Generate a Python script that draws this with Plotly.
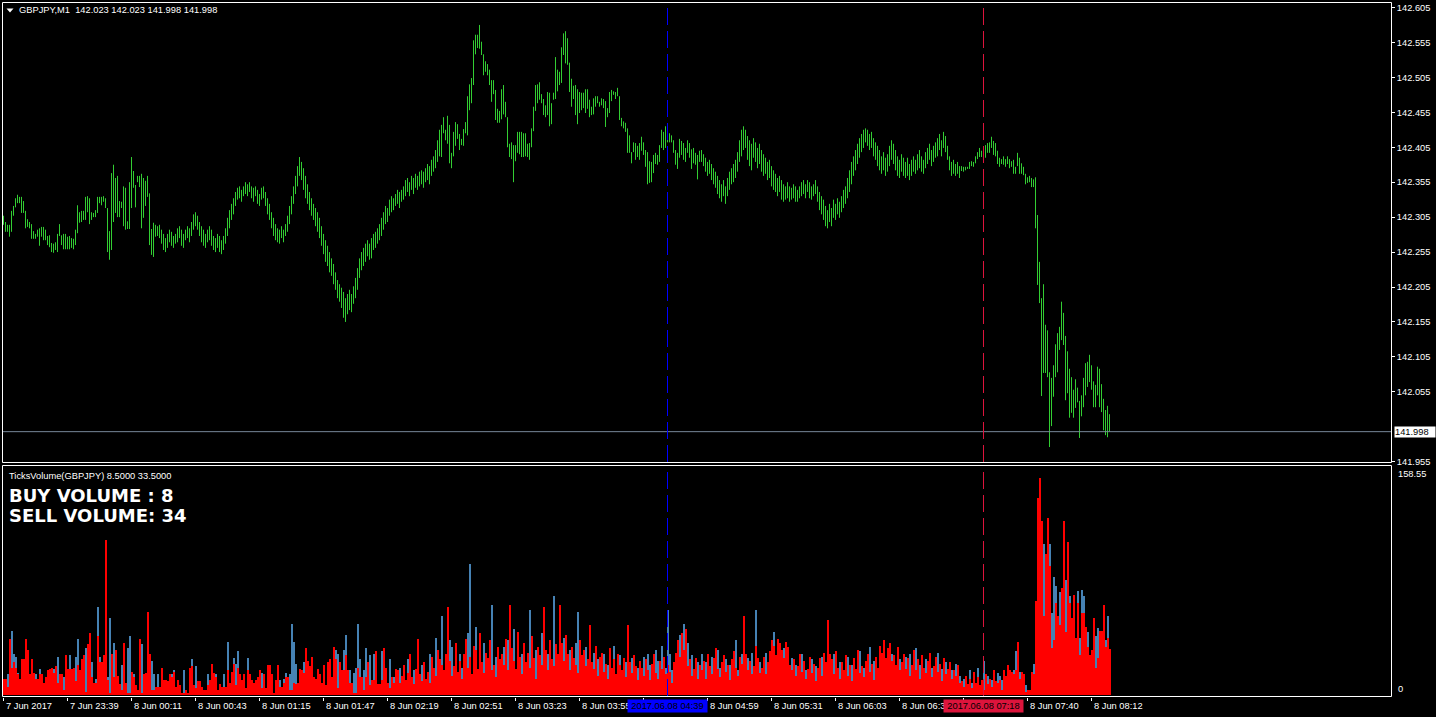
import plotly.graph_objects as go

W, H = 1436, 717

# ---------------- data (GBPJPY M1, one bar per minute from 7 Jun 23:07) ----------------
high = [
    142.307, 142.298, 142.294, 142.294, 142.314, 142.321, 142.332, 142.337, 142.334, 142.334,
    142.328, 142.314, 142.302, 142.298, 142.295, 142.285, 142.281, 142.287, 142.289, 142.291,
    142.291, 142.287, 142.278, 142.279, 142.268, 142.267, 142.269, 142.281, 142.295, 142.279,
    142.281, 142.281, 142.277, 142.278, 142.275, 142.274, 142.287, 142.322, 142.312, 142.314,
    142.314, 142.334, 142.335, 142.332, 142.312, 142.311, 142.315, 142.334, 142.334, 142.334,
    142.335, 142.332, 142.318, 142.285, 142.368, 142.380, 142.361, 142.364, 142.328, 142.327,
    142.349, 142.347, 142.299, 142.355, 142.391, 142.371, 142.351, 142.364, 142.364, 142.367,
    142.361, 142.357, 142.364, 142.339, 142.288, 142.297, 142.294, 142.292, 142.294,
    142.287, 142.281, 142.275, 142.281, 142.287, 142.284, 142.278, 142.281, 142.289, 142.292,
    142.287, 142.281, 142.287, 142.292, 142.289, 142.298, 142.309, 142.312, 142.307, 142.298,
    142.292, 142.287, 142.281, 142.287, 142.292, 142.287, 142.278, 142.275, 142.281, 142.278,
    142.272, 142.278, 142.289, 142.304, 142.315, 142.324, 142.332, 142.341, 142.347, 142.349,
    142.344, 142.349, 142.355, 142.352, 142.355, 142.349, 142.347, 142.349, 142.344, 142.338,
    142.347, 142.349, 142.341, 142.332, 142.324, 142.312, 142.304, 142.295, 142.289, 142.287,
    142.292, 142.287, 142.295, 142.307, 142.321, 142.335, 142.349, 142.364, 142.378, 142.391,
    142.384, 142.375, 142.364, 142.352, 142.341, 142.332, 142.324, 142.318, 142.312, 142.304,
    142.292, 142.281, 142.272, 142.264, 142.255, 142.246, 142.238, 142.226, 142.215, 142.209,
    142.204, 142.198, 142.189, 142.195, 142.201, 142.195, 142.206, 142.218, 142.232, 142.246,
    142.255, 142.261, 142.267, 142.272, 142.267, 142.275, 142.281, 142.284, 142.289, 142.295,
    142.304, 142.312, 142.321, 142.318, 142.330, 142.335, 142.332, 142.338, 142.344, 142.341,
    142.344, 142.349, 142.358, 142.361, 142.355, 142.364, 142.361, 142.367, 142.364, 142.370,
    142.372, 142.370, 142.375, 142.381, 142.378, 142.387, 142.392, 142.401, 142.415, 142.430,
    142.437, 142.448, 142.430, 142.450, 142.437, 142.397, 142.427, 142.441, 142.438, 142.424,
    142.417, 142.431, 142.441, 142.478, 142.495, 142.504, 142.558, 142.566, 142.566, 142.580,
    142.556, 142.538, 142.528, 142.524, 142.516, 142.501, 142.501, 142.487, 142.460, 142.457,
    142.488, 142.494, 142.470, 142.448, 142.410, 142.412, 142.408, 142.408, 142.427, 142.427,
    142.427, 142.425, 142.425, 142.410, 142.411, 142.432, 142.463, 142.494, 142.495, 142.498,
    142.481, 142.474, 142.465, 142.484, 142.483, 142.468, 142.483, 142.534, 142.516, 142.513,
    142.548, 142.568, 142.571, 142.561, 142.526, 142.503, 142.493, 142.494, 142.488, 142.484,
    142.483, 142.483, 142.488, 142.488, 142.473, 142.463, 142.475, 142.478, 142.478, 142.470,
    142.475, 142.474, 142.471, 142.461, 142.484, 142.487, 142.485, 142.484, 142.490, 142.478,
    142.447, 142.442, 142.440, 142.432, 142.422, 142.398, 142.412, 142.411, 142.407, 142.411,
    142.420, 142.412, 142.401, 142.398, 142.385, 142.384, 142.394, 142.397, 142.394, 142.408,
    142.430, 142.427, 142.435, 142.432, 142.425, 142.422, 142.415, 142.401, 142.397, 142.417,
    142.414, 142.411, 142.404, 142.415, 142.411, 142.402, 142.404, 142.397, 142.394, 142.400,
    142.401, 142.395, 142.390, 142.384, 142.387, 142.381, 142.375, 142.370, 142.364, 142.358,
    142.352, 142.358, 142.349, 142.361, 142.370, 142.375, 142.381, 142.387, 142.398, 142.415,
    142.430, 142.435, 142.430, 142.421, 142.415, 142.410, 142.418, 142.412, 142.404, 142.410,
    142.401, 142.395, 142.390, 142.384, 142.387, 142.378, 142.372, 142.367, 142.361, 142.364,
    142.358, 142.352, 142.349, 142.355, 142.349, 142.347, 142.352, 142.349, 142.344, 142.349,
    142.355, 142.358, 142.352, 142.358, 142.355, 142.349, 142.352, 142.358, 142.349, 142.341,
    142.335, 142.330, 142.321, 142.315, 142.324, 142.318, 142.330, 142.324, 142.332, 142.327,
    142.335, 142.344, 142.349, 142.361, 142.372, 142.384, 142.392, 142.401, 142.410, 142.418,
    142.424, 142.430, 142.432, 142.430, 142.424, 142.427, 142.418, 142.412, 142.407, 142.401,
    142.392, 142.398, 142.390, 142.395, 142.407, 142.415, 142.410, 142.401, 142.392, 142.387,
    142.395, 142.390, 142.384, 142.390, 142.381, 142.387, 142.392, 142.387, 142.395, 142.401,
    142.392, 142.387, 142.398, 142.404, 142.410, 142.401, 142.407, 142.412, 142.418, 142.424,
    142.415, 142.427, 142.421, 142.407, 142.392, 142.384, 142.387, 142.381, 142.384, 142.378,
    142.378, 142.377, 142.377, 142.377, 142.384, 142.385, 142.384, 142.392, 142.398, 142.404,
    142.400, 142.404, 142.408, 142.411, 142.412, 142.420, 142.414, 142.411, 142.400, 142.390,
    142.388, 142.392, 142.388, 142.392, 142.388, 142.385, 142.387, 142.377, 142.397, 142.390,
    142.382, 142.377, 142.367, 142.362, 142.364, 142.361, 142.359, 142.362, 142.308, 142.241,
    142.189, 142.209, 142.151, 142.143, 142.083, 142.075, 142.093, 142.123, 142.139, 142.148,
    142.184, 142.168, 142.135, 142.113, 142.088, 142.076, 142.058, 142.073, 142.061, 142.042,
    142.050, 142.075, 142.096, 142.098, 142.108, 142.093, 142.070, 142.065, 142.091, 142.088,
    142.066, 142.045, 142.029, 142.035, 142.023,
]

low = [
    142.294, 142.284, 142.284, 142.277, 142.284, 142.307, 142.319, 142.325, 142.325, 142.311,
    142.311, 142.289, 142.291, 142.289, 142.274, 142.274, 142.274, 142.277, 142.264, 142.277,
    142.272, 142.272, 142.265, 142.262, 142.255, 142.254, 142.258, 142.255, 142.278, 142.265,
    142.259, 142.259, 142.259, 142.259, 142.261, 142.259, 142.265, 142.282, 142.297, 142.298,
    142.301, 142.301, 142.312, 142.295, 142.301, 142.305, 142.305, 142.311, 142.325, 142.322,
    142.327, 142.318, 142.255, 142.244, 142.258, 142.298, 142.311, 142.305, 142.305, 142.318,
    142.292, 142.287, 142.288, 142.288, 142.318, 142.347, 142.319, 142.355, 142.348, 142.289,
    142.304, 142.321, 142.334, 142.265, 142.251, 142.248, 142.277, 142.278, 142.275,
    142.267, 142.258, 142.255, 142.261, 142.269, 142.264, 142.261, 142.267, 142.269, 142.275,
    142.264, 142.261, 142.272, 142.275, 142.269, 142.278, 142.287, 142.292, 142.287, 142.278,
    142.269, 142.264, 142.261, 142.269, 142.272, 142.264, 142.258, 142.255, 142.261, 142.255,
    142.252, 142.258, 142.267, 142.278, 142.289, 142.301, 142.309, 142.321, 142.330, 142.332,
    142.327, 142.335, 142.338, 142.335, 142.341, 142.332, 142.327, 142.335, 142.324, 142.321,
    142.330, 142.332, 142.321, 142.309, 142.301, 142.289, 142.278, 142.272, 142.269, 142.267,
    142.275, 142.269, 142.278, 142.284, 142.295, 142.309, 142.324, 142.338, 142.349, 142.364,
    142.358, 142.344, 142.332, 142.324, 142.315, 142.307, 142.301, 142.292, 142.284, 142.275,
    142.264, 142.252, 142.241, 142.235, 142.226, 142.221, 142.209, 142.201, 142.189, 142.184,
    142.175, 142.161, 142.155, 142.166, 142.172, 142.169, 142.181, 142.189, 142.201, 142.218,
    142.229, 142.235, 142.241, 142.249, 142.244, 142.246, 142.258, 142.261, 142.267, 142.272,
    142.278, 142.287, 142.295, 142.298, 142.307, 142.312, 142.315, 142.321, 142.324, 142.318,
    142.327, 142.330, 142.335, 142.341, 142.335, 142.344, 142.338, 142.347, 142.344, 142.349,
    142.352, 142.347, 142.355, 142.358, 142.352, 142.364, 142.370, 142.375, 142.384, 142.392,
    142.391, 142.425, 142.415, 142.410, 142.382, 142.375, 142.392, 142.407, 142.417, 142.401,
    142.408, 142.407, 142.425, 142.422, 142.458, 142.468, 142.494, 142.538, 142.547, 142.546,
    142.537, 142.508, 142.513, 142.508, 142.494, 142.470, 142.481, 142.444, 142.440, 142.440,
    142.445, 142.452, 142.448, 142.405, 142.391, 142.388, 142.355, 142.385, 142.397, 142.395,
    142.391, 142.391, 142.392, 142.391, 142.387, 142.405, 142.428, 142.457, 142.468, 142.473,
    142.468, 142.451, 142.448, 142.451, 142.435, 142.438, 142.473, 142.474, 142.485, 142.494,
    142.497, 142.537, 142.525, 142.523, 142.484, 142.463, 142.474, 142.451, 142.438, 142.454,
    142.458, 142.461, 142.454, 142.460, 142.448, 142.451, 142.452, 142.463, 142.468, 142.463,
    142.465, 142.461, 142.434, 142.448, 142.454, 142.471, 142.480, 142.474, 142.478, 142.444,
    142.435, 142.432, 142.427, 142.397, 142.397, 142.382, 142.398, 142.387, 142.391, 142.387,
    142.400, 142.394, 142.377, 142.352, 142.354, 142.355, 142.368, 142.381, 142.380, 142.384,
    142.404, 142.401, 142.404, 142.412, 142.412, 142.412, 142.397, 142.380, 142.374, 142.390,
    142.394, 142.387, 142.384, 142.397, 142.390, 142.374, 142.382, 142.380, 142.359, 142.384,
    142.384, 142.378, 142.370, 142.364, 142.367, 142.358, 142.352, 142.347, 142.338, 142.332,
    142.327, 142.335, 142.324, 142.335, 142.344, 142.352, 142.355, 142.361, 142.370, 142.384,
    142.392, 142.401, 142.404, 142.387, 142.378, 142.372, 142.390, 142.384, 142.375, 142.381,
    142.370, 142.364, 142.367, 142.358, 142.361, 142.349, 142.344, 142.341, 142.335, 142.341,
    142.330, 142.327, 142.330, 142.332, 142.327, 142.330, 142.332, 142.327, 142.327, 142.332,
    142.335, 142.338, 142.332, 142.341, 142.332, 142.330, 142.335, 142.338, 142.327, 142.315,
    142.309, 142.301, 142.292, 142.289, 142.298, 142.292, 142.304, 142.301, 142.309, 142.304,
    142.312, 142.318, 142.324, 142.332, 142.341, 142.352, 142.364, 142.372, 142.381, 142.390,
    142.398, 142.404, 142.412, 142.407, 142.401, 142.404, 142.392, 142.387, 142.378, 142.372,
    142.367, 142.372, 142.364, 142.370, 142.378, 142.387, 142.381, 142.372, 142.364, 142.361,
    142.370, 142.364, 142.361, 142.364, 142.358, 142.364, 142.370, 142.367, 142.372, 142.375,
    142.370, 142.367, 142.375, 142.381, 142.387, 142.378, 142.384, 142.390, 142.392, 142.401,
    142.392, 142.404, 142.398, 142.387, 142.372, 142.364, 142.367, 142.364, 142.367, 142.361,
    142.371, 142.370, 142.372, 142.374, 142.374, 142.378, 142.377, 142.382, 142.388, 142.391,
    142.391, 142.392, 142.390, 142.397, 142.397, 142.404, 142.394, 142.392, 142.381, 142.377,
    142.381, 142.380, 142.377, 142.381, 142.375, 142.377, 142.367, 142.367, 142.378, 142.367,
    142.367, 142.365, 142.352, 142.354, 142.355, 142.348, 142.348, 142.289, 142.208, 142.182,
    142.049, 142.082, 142.082, 142.076, 141.976, 142.006, 142.048, 142.076, 142.083, 142.115,
    142.129, 142.122, 142.043, 142.053, 142.018, 142.025, 142.018, 142.032, 142.040, 141.989,
    142.020, 142.033, 142.050, 142.062, 142.069, 142.058, 142.033, 142.033, 142.050, 142.033,
    142.026, 142.000, 141.993, 141.990, 141.998,
]

sell_volume = [
    12, 12, 6, 41, 20, 24, 20, 15, 12, 26, 26,
    41, 33, 15, 26, 16, 12, 12, 15, 15, 9,
    13, 18, 19, 20, 16, 21, 9, 15, 15, 4,
    29, 19, 19, 19, 20, 10, 22, 18, 26, 29,
    2, 37, 45, 13, 9, 9, 43, 24, 24, 29,
    113, 11, 1, 30, 13, 33, 14, 8, 4, 38,
    9, 1, 1, 17, 13, 7, 4, 41, 1, 15,
    16, 61, 30, 4, 4, 6, 6, 6, 20, 11,
    11, 10, 15, 13, 17, 6, 11, 7, 1, 1,
    4, 1, 20, 21, 7, 5, 10, 10, 6, 4,
    4, 7, 11, 23, 16, 13, 4, 8, 6, 6,
    6, 18, 9, 17, 23, 7, 20, 15, 11, 15,
    5, 18, 15, 11, 9, 11, 13, 18, 5, 15,
    5, 22, 22, 15, 1, 11, 22, 6, 6, 9,
    13, 13, 4, 4, 9, 8, 9, 19, 18, 16,
    34, 25, 21, 28, 13, 12, 19, 15, 9, 22,
    7, 24, 26, 13, 35, 26, 5, 24, 18, 18,
    29, 18, 9, 9, 1, 1, 20, 13, 13, 4,
    13, 24, 7, 11, 11, 32, 8, 8, 11, 34,
    20, 9, 5, 13, 9, 19,
    18, 9, 14, 22, 11, 16, 30, 13, 8, 19, 41, 15, 10, 24, 12, 17, 9, 28, 20, 14, 33, 26,
    22, 18, 30, 64, 25, 14, 21, 38, 17, 25, 12, 30, 41, 20, 28, 15, 36, 33, 19, 45, 24, 16, 31, 27, 40, 18, 22, 13, 35, 26,
    30, 22, 41, 18, 66, 34, 25, 19, 46, 28, 15, 38, 24, 31, 20, 43, 27, 12, 35, 29, 22, 64, 33, 18, 40, 26, 21, 37, 30, 66,
    38, 25, 44, 30, 18, 35, 27, 22, 16, 40, 29, 33, 21, 26, 51, 24, 19, 36, 14, 28, 31, 17, 23, 12, 34, 20, 26, 15, 30, 22,
    18, 27, 13, 51, 24, 16, 29, 21, 11, 25,
    20, 14, 26, 18, 11, 23, 30, 16, 12, 25, 19, 28, 15, 22, 17, 9, 24, 31, 40, 28, 45, 33, 48, 21, 26, 14, 19, 27, 12, 22,
    18, 25, 12, 30, 21, 15, 27, 34, 19, 13, 24, 29, 17, 22, 11, 26, 32, 20, 14, 28, 23, 58, 30, 18, 25, 15, 21, 36, 27, 16,
    20, 28, 15, 24, 32, 40, 36, 29, 41, 38, 33, 27, 39, 35, 22, 18, 26, 14, 21, 30, 17, 25, 12, 19, 28, 16, 23, 10, 20, 27,
    14, 31, 24, 55, 30,
    26, 15, 32, 20, 12, 24, 18, 29, 14, 22, 10, 27, 19, 33, 16, 21, 13, 25, 30, 17, 23, 11, 28, 20, 36, 31, 40, 27, 34, 38,
    25, 29, 22, 35, 18,
    24, 30, 19, 27, 14, 22, 33, 18, 26, 12, 29, 20, 16, 25, 31, 13, 21, 28, 17, 23, 10, 27, 15, 19, 24, 12, 18, 14, 22, 9,
    10, 6, 14, 8, 12, 5, 17, 9, 13, 7, 11, 4, 15, 8, 12, 6, 18, 10, 9,
    11, 4, 18, 14, 22, 18, 17, 15, 18, 39, 12, 17, 15, 2, 4, 4, 17, 15, 69, 144,
    158.5, 127, 58, 103, 129, 94, 34, 40, 67, 58, 51, 78, 127, 46, 112, 67, 56, 73, 42, 67,
    29, 60, 60, 50, 35, 29, 33, 56, 20, 27, 47, 47, 66, 35, 42, 33.5,
]

buy_volume = [
    6, 6, 15, 20, 47, 30, 28, 16, 6, 12, 14,
    18, 15, 8, 10, 9, 15, 6, 19, 7, 4,
    6, 9, 10, 12, 19, 10, 28, 7, 8, 13,
    14, 9, 29, 10, 11, 28, 41, 8, 13, 15,
    34, 18, 20, 24, 5, 12, 64, 28, 12, 14,
    40, 13, 56, 15, 38, 15, 7, 4, 22, 17,
    4, 34, 43, 8, 15, 3, 2, 19, 37, 7,
    8, 28, 14, 25, 15, 3, 15, 3, 10, 5,
    6, 5, 7, 15, 18, 3, 5, 3, 1, 18,
    2, 0, 9, 26, 3, 21, 5, 5, 3, 2,
    2, 15, 5, 11, 8, 15, 2, 4, 3, 15,
    3, 39, 4, 8, 27, 23, 32, 7, 5, 7,
    2, 27, 7, 5, 4, 5, 6, 9, 16, 7,
    2, 10, 11, 7, 1, 5, 10, 11, 3, 12,
    16, 6, 15, 52, 39, 23, 4, 9, 8, 24,
    16, 12, 10, 13, 6, 6, 9, 7, 4, 10,
    3, 11, 12, 6, 16, 33, 30, 11, 9, 33,
    44, 8, 18, 4, 16, 20, 52, 26, 6, 18,
    34, 11, 29, 5, 30, 15, 4, 4, 32, 16,
    10, 4, 26, 6, 13, 9,
    8, 20, 6, 10, 5, 26, 14, 6, 18, 9, 19, 7, 22, 11, 6, 8, 30, 13, 9, 42, 15, 12,
    58, 10, 30, 12, 40, 35, 10, 18, 8, 30, 20, 14, 20, 45, 96, 7, 17, 50, 9, 21, 12, 38, 15, 12, 20, 66, 10, 28, 16, 12,
    14, 35, 18, 40, 20, 12, 48, 9, 22, 13, 30, 17, 11, 28, 62, 19, 14, 33, 16, 12, 45, 27, 15, 30, 18, 12, 72, 17, 13, 28,
    16, 42, 12, 15, 33, 10, 14, 38, 61, 12, 18, 11, 35, 13, 20, 9, 31, 14, 26, 10, 12, 30, 9, 22, 13, 8, 36, 10, 11, 29,
    8, 12, 24, 15, 9, 27, 11, 8, 20, 10,
    10, 28, 9, 30, 22, 8, 14, 33, 25, 11, 36, 12, 20, 62, 30, 18, 10, 15, 20, 44, 19, 52, 20, 38, 12, 29, 8, 13, 24, 10,
    30, 11, 24, 13, 10, 28, 12, 15, 33, 20, 11, 14, 26, 10, 22, 12, 14, 40, 18, 12, 30, 20, 13, 27, 11, 31, 9, 62, 12, 24,
    12, 14, 31, 11, 15, 18, 46, 13, 20, 17, 15, 34, 19, 14, 10, 27, 12, 22, 9, 14, 30, 11, 18, 8, 13, 26, 10, 21, 9, 12,
    28, 14, 11, 24, 13,
    10, 30, 13, 9, 24, 11, 8, 14, 28, 10, 22, 12, 9, 16, 32, 10, 20, 12, 14, 35, 11, 25, 13, 9, 16, 14, 18, 12, 15, 17,
    30, 13, 10, 16, 26,
    11, 14, 28, 12, 30, 10, 15, 34, 11, 22, 13, 9, 26, 11, 14, 20, 9, 13, 31, 10, 19, 12, 24, 8, 11, 18, 8, 23, 10, 14,
    5, 12, 6, 4, 18, 9, 7, 4, 20, 3, 6, 25, 7, 14, 5, 11, 8, 4, 16,
    14, 11, 8, 6, 10, 8, 8, 18, 32, 17, 17, 8, 7, 7, 2, 2, 8, 23, 30, 60,
    70, 55, 110, 45, 56, 110, 60, 86, 80, 25, 75, 35, 55, 84, 50, 72, 25, 32, 18, 76,
    42, 77, 72, 22, 46, 13, 15, 25, 43, 49, 20, 21, 29, 40, 58, 8.5,
]

tick_bars = [0, 32, 64, 96, 128, 160, 192, 224, 256, 288, 352, 384, 416, 448, 512, 544]
tick_labels = ["7 Jun 2017", "7 Jun 23:39", "8 Jun 00:11", "8 Jun 00:43", "8 Jun 01:15",
               "8 Jun 01:47", "8 Jun 02:19", "8 Jun 02:51", "8 Jun 03:23", "8 Jun 03:55",
               "8 Jun 04:59", "8 Jun 05:31", "8 Jun 06:03", "8 Jun 06:35",
               "8 Jun 07:40", "8 Jun 08:12"]
price_ticks = [141.955, 142.055, 142.105, 142.155, 142.205, 142.255,
               142.305, 142.355, 142.405, 142.455, 142.505, 142.555, 142.605]
volume_max_label = "158.55"
last_price = 141.998
header_text = "GBPJPY,M1\u00a0\u00a0142.023 142.023 141.998 141.998"
indicator_text = "TicksVolume(GBPJPY) 8.5000 33.5000"
buy_text = "BUY VOLUME : 8"
sell_text = "SELL VOLUME: 34"
vline_bars = [332, 490]
vline_labels = ["2017.06.08 04:39", "2017.06.08 07:18"]
vline_colors = ["#0000FF", "#DC143C"]

# ---------------- helpers ----------------
def pxx(p):
    return p / W

def pxy(p):
    return 1 - p / H

SMALL = dict(family="Liberation Sans, Arial, sans-serif", size=9.3, color="#FFFFFF")
X_RANGE = [-0.75, 693.75]

# ---------------- traces ----------------
xs, ys = [], []
for i in range(len(high)):
    xs += [i, i, None]
    ys += [low[i], high[i], None]

fig = go.Figure()
fig.add_trace(go.Scatter(x=xs, y=ys, mode="lines", xaxis="x", yaxis="y",
                         line=dict(color="#32CD32", width=1), hoverinfo="skip"))
fig.add_trace(go.Bar(x=list(range(len(buy_volume))), y=buy_volume, width=1, offset=-0.25,
                     xaxis="x2", yaxis="y2", marker=dict(color="#4682B4", line=dict(width=0))))
fig.add_trace(go.Bar(x=list(range(len(sell_volume))), y=sell_volume, width=1, offset=-0.25,
                     xaxis="x2", yaxis="y2", marker=dict(color="#FF0000", line=dict(width=0))))

# ---------------- shapes ----------------
shapes = []
shapes.append(dict(type="rect", xref="paper", yref="paper", x0=pxx(2.5), x1=pxx(1391.5),
                   y0=pxy(462.5), y1=pxy(2.5), line=dict(color="#FFFFFF", width=1), layer="above"))
shapes.append(dict(type="rect", xref="paper", yref="paper", x0=pxx(2.5), x1=pxx(1391.5),
                   y0=pxy(696.5), y1=pxy(465.5), line=dict(color="#FFFFFF", width=1), layer="above"))
shapes.append(dict(type="line", xref="paper", yref="y", x0=pxx(3), x1=pxx(1391), y0=last_price, y1=last_price,
                   line=dict(color="#778899", width=1), layer="above"))
for b, c in zip(vline_bars, vline_colors):
    for top, bot in [(3, 462), (466, 696)]:
        shapes.append(dict(type="line", xref="x", yref="paper", x0=b, x1=b, y0=pxy(bot), y1=pxy(top),
                           line=dict(color=c, width=1, dash="17px,6px"), layer="above"))
shapes.append(dict(type="path", xref="paper", yref="paper",
                   path=f"M {pxx(6.5)},{pxy(8.5)} L {pxx(13.5)},{pxy(8.5)} L {pxx(10)},{pxy(12.5)} Z",
                   fillcolor="#FFFFFF", line=dict(width=0)))

# ---------------- annotations ----------------
ann = []
ann.append(dict(text=header_text, xref="paper", yref="paper", x=pxx(17), y=pxy(10.5),
                xanchor="left", yanchor="middle", showarrow=False, font=SMALL))
ann.append(dict(text=indicator_text, xref="paper", yref="paper", x=pxx(7), y=pxy(475.5),
                xanchor="left", yanchor="middle", showarrow=False, font=SMALL))
BIG = dict(family="DejaVu Sans, sans-serif", size=18, color="#FFFFFF")
ann.append(dict(text=f"<b>{buy_text}</b>", xref="paper", yref="paper", x=pxx(7), y=pxy(495),
                xanchor="left", yanchor="middle", showarrow=False, font=BIG))
ann.append(dict(text=f"<b>{sell_text}</b>", xref="paper", yref="paper", x=pxx(7), y=pxy(515),
                xanchor="left", yanchor="middle", showarrow=False, font=BIG))
ann.append(dict(text=volume_max_label, xref="paper", yref="paper", x=pxx(1396), y=pxy(474),
                xanchor="left", yanchor="middle", showarrow=False, font=SMALL))
ann.append(dict(text="0", xref="paper", yref="paper", x=pxx(1396), y=pxy(689),
                xanchor="left", yanchor="middle", showarrow=False, font=SMALL))
for b, t in zip(tick_bars, tick_labels):
    ann.append(dict(text=t, xref="x2", yref="paper", x=b, y=pxy(705.5), xanchor="left", yanchor="middle",
                    showarrow=False, font=SMALL))
for b, t, c in zip(vline_bars, vline_labels, vline_colors):
    ann.append(dict(text=t, xref="x2", yref="paper", x=b, y=pxy(705.5), xanchor="center", yanchor="middle",
                    showarrow=False, bgcolor=c, borderpad=0, width=79, height=12,
                    font=dict(family="Liberation Sans, Arial, sans-serif", size=9.3, color="#000000")))
ann.append(dict(text=f"{last_price:.3f}", xref="paper", yref="y", x=pxx(1394), y=last_price,
                xanchor="left", yanchor="middle", showarrow=False, bgcolor="#FFFFFF", borderpad=0,
                width=40, height=10, align="left",
                font=dict(family="Liberation Sans, Arial, sans-serif", size=9.3, color="#000000")))

# ---------------- layout ----------------
fig.update_layout(
    width=W, height=H, autosize=False, template="none",
    margin=dict(l=0, r=0, t=0, b=0, pad=0),
    paper_bgcolor="#000000", plot_bgcolor="#000000",
    showlegend=False, barmode="overlay", bargap=0,
    shapes=shapes, annotations=ann,
    xaxis=dict(domain=[pxx(2), pxx(1391)], range=X_RANGE, anchor="y", visible=False, fixedrange=True),
    xaxis2=dict(domain=[pxx(2), pxx(1391)], range=X_RANGE, anchor="y2", showgrid=False, zeroline=False,
                showline=False, ticks="outside", ticklen=3, tickwidth=1, tickcolor="#FFFFFF",
                tickvals=[0, 32, 64, 96, 128, 160, 192, 224, 256, 288, 320, 352, 384, 416, 448, 480, 512, 544],
                showticklabels=False, fixedrange=True, automargin=False),
    yaxis=dict(domain=[pxy(462), pxy(3)], range=[141.9546, 142.6114], anchor="x", side="right",
               tickvals=price_ticks, ticktext=[f"{v:.3f}" for v in price_ticks],
               ticks="outside", ticklen=3, tickwidth=1, tickcolor="#FFFFFF", tickfont=SMALL,
               showgrid=False, zeroline=False, showline=False, fixedrange=True, automargin=False),
    yaxis2=dict(domain=[pxy(697), pxy(466)], range=[-1.461, 167.31], anchor="x2",
                visible=False, fixedrange=True),
)

fig.write_html("out.html", include_plotlyjs=True, config={"displayModeBar": False},
               post_script="document.body.style.margin='0px';document.body.style.overflow='hidden';")
